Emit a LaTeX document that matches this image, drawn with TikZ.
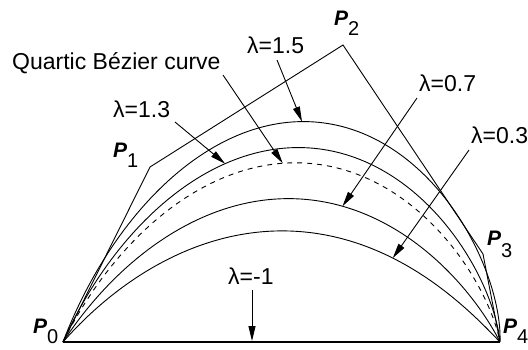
\documentclass[tikz,border=0pt]{standalone}
\usepackage{fontspec}
\setmainfont{Liberation Sans}
\usetikzlibrary{arrows.meta}
% quartic curve through P0..P4 with inner control points scaled by #1 from the chord
\pgfmathdeclarefunction{bzx}{2}{\pgfmathparse{63+437*#2+#1*(-89*#2*(1-#2)*(1-#2)*(1-#2)+369*#2*#2*(1-#2)*(1-#2)+369*#2*#2*#2*(1-#2))}}
\pgfmathdeclarefunction{bzy}{2}{\pgfmathparse{342-#1*(700*#2*(1-#2)*(1-#2)*(1-#2)+1782*#2*#2*(1-#2)*(1-#2)+352*#2*#2*#2*(1-#2))}}
\newcommand\Plabel[2]{{\fontsize{21}{21}\selectfont\bfseries\itshape P}\raisebox{-#2pt}{\fontsize{20}{20}\selectfont #1}}
\begin{document}
\begin{tikzpicture}[x=1pt,y=-1pt,
  crv/.style={line width=0.9pt},
  poly/.style={line width=0.9pt},
  lab/.style={font=\fontsize{23}{25}\selectfont, inner sep=0pt, anchor=base west},
  plab/.style={inner sep=0pt, anchor=base west},
  arr/.style={line width=0.9pt, -{Triangle[length=15pt,width=7pt]}}]
\useasboundingbox[fill=white] (0,0) rectangle (528,349);
% control polygon
\coordinate (P0) at (63,342);
\coordinate (P1) at (150,167);
\coordinate (P2) at (343,45);
\coordinate (P3) at (483,254);
\coordinate (P4) at (500,342);
\draw[poly] (P0) -- (P1) -- (P2) -- (P3) -- (P4);
% curves
\draw[crv] plot[domain=0:1,samples=120,variable=\t] ({bzx(1.23,\t)},{bzy(1.23,\t)});
\draw[crv] plot[domain=0:1,samples=120,variable=\t] ({bzx(1.085,\t)},{bzy(1.085,\t)});
\draw[crv,dash pattern=on 5pt off 5pt] plot[domain=0:1,samples=120,variable=\t] ({bzx(1,\t)},{bzy(1,\t)});
\draw[crv] plot[domain=0:1,samples=120,variable=\t] ({bzx(0.8,\t)},{bzy(0.8,\t)});
\draw[crv] plot[domain=0:1,samples=120,variable=\t] ({bzx(0.62,\t)},{bzy(0.62,\t)});
\draw[line width=1.3pt] (P0) -- (P4);
% labels
\node[lab] (lq) at (12,69) {Quartic Bézier curve};
\node[lab] (l13) at (113,117) {λ=1.3};
\node[lab] (l15) at (247,53) {λ=1.5};
\node[lab] (l07) at (419,91) {λ=0.7};
\node[lab] (l03) at (471,143) {λ=0.3};
\node[lab] (lm1) at (228,284) {λ=-1};
\node[plab] (n0) at (33,333) {\Plabel{0}{10}};
\node[plab] (n1) at (113,157) {\Plabel{1}{10}};
\node[plab] (n2) at (334,25) {\Plabel{2}{10}};
\node[plab] (n3) at (487,245) {\Plabel{3}{12}};
\node[plab] (n4) at (503,333) {\Plabel{4}{10}};
% arrow ends
\coordinate (s15) at (277,60);
\coordinate (t15) at ({bzx(1.23,0.45)},{bzy(1.23,0.45)});
\coordinate (sq) at (223,75);
\coordinate (tq) at ({bzx(1,0.43)},{bzy(1,0.43)});
\coordinate (s13) at (175,122);
\coordinate (t13) at ({bzx(1.085,0.327)},{bzy(1.085,0.327)});
\coordinate (s07) at (417,98);
\coordinate (t07) at ({bzx(0.8,0.555)},{bzy(0.8,0.555)});
\coordinate (s03) at (469,150);
\coordinate (t03) at ({bzx(0.62,0.68)},{bzy(0.62,0.68)});
\coordinate (sm1) at (252,290);
\coordinate (tm1) at (252,341);
\draw[arr] (s15) -- (t15);
\draw[arr] (sq) -- (tq);
\draw[arr] (s13) -- (t13);
\draw[arr] (s07) -- (t07);
\draw[arr] (s03) -- (t03);
\draw[arr] (sm1) -- (tm1);
\end{tikzpicture}
\end{document}
